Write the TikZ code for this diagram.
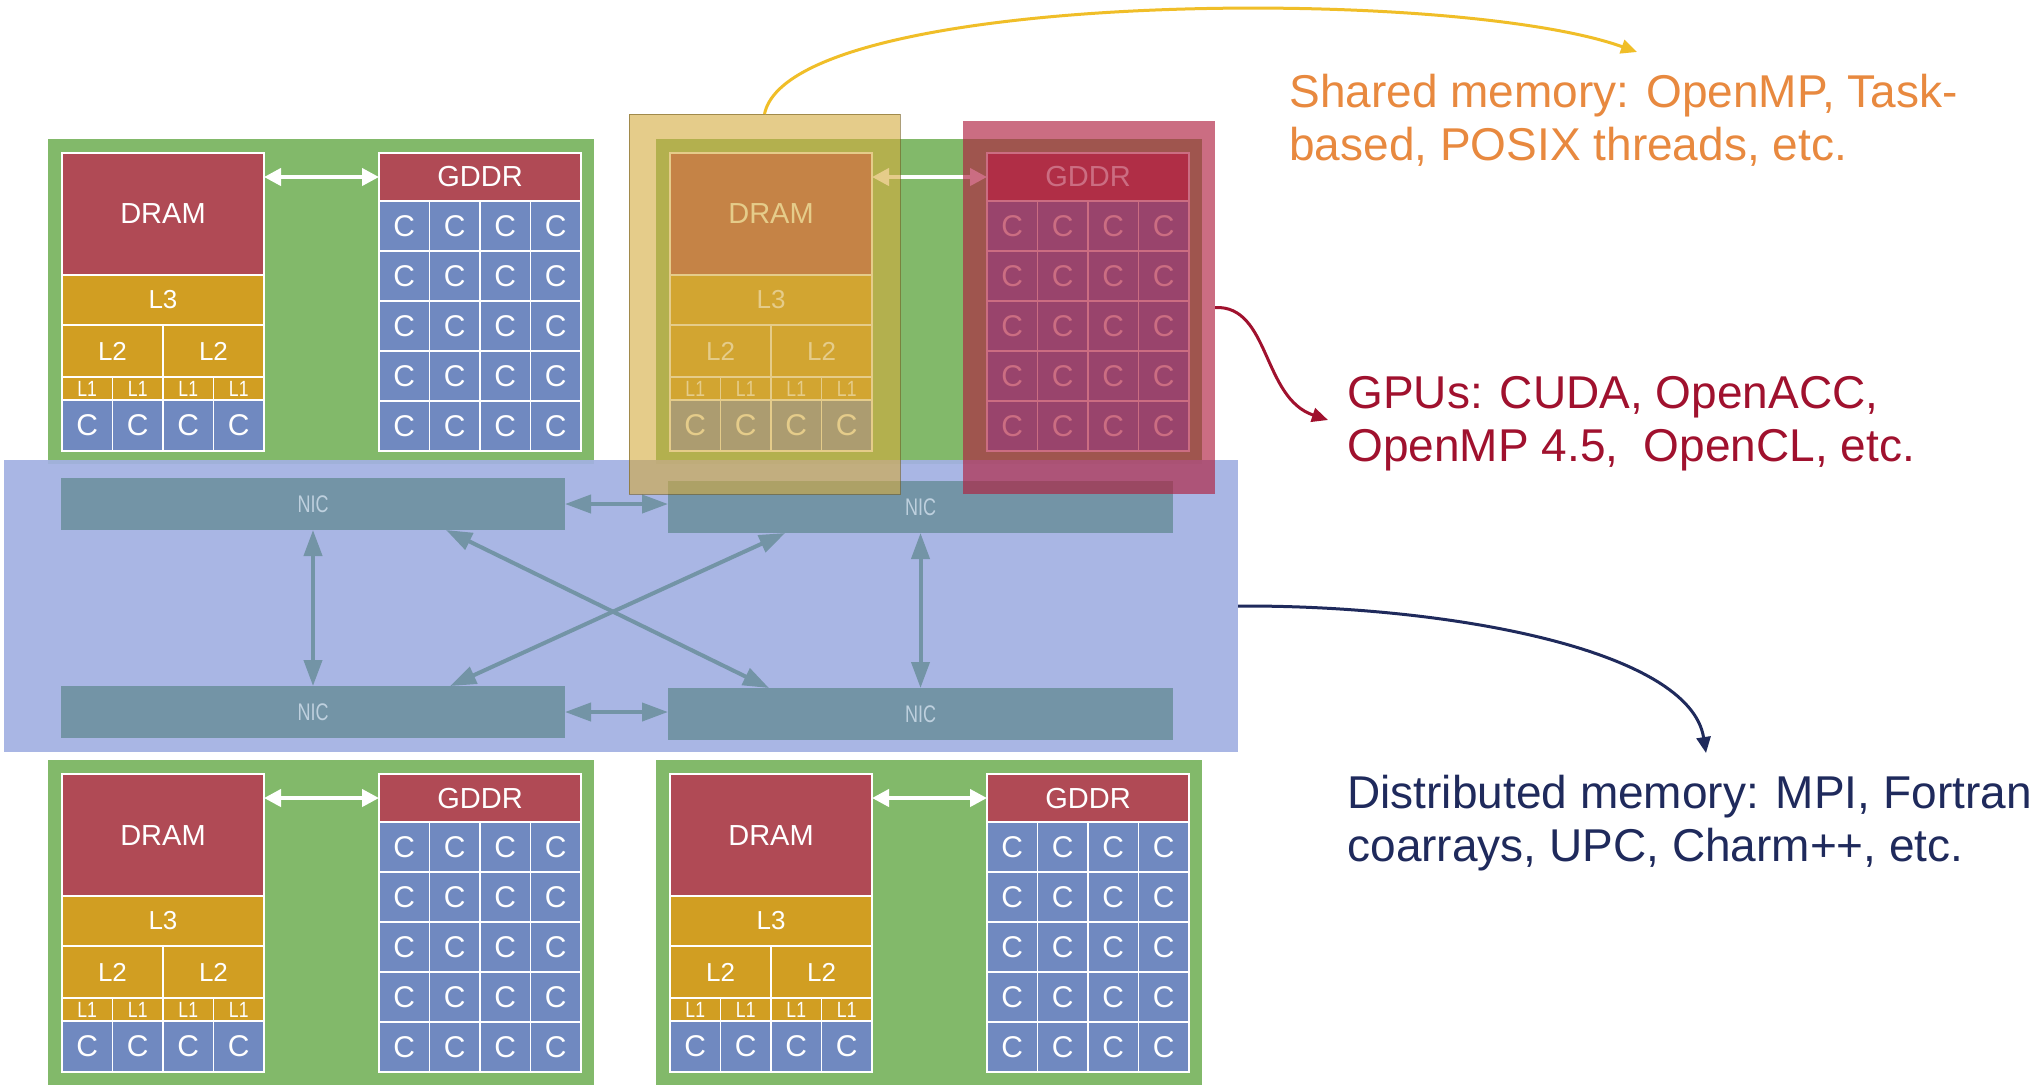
\documentclass[tikz,border=0pt]{standalone}
\usepackage{fontspec}
\setmainfont{Liberation Sans}
\usetikzlibrary{arrows.meta,calc}
\definecolor{grn}{RGB}{130,185,106}
\definecolor{dramred}{RGB}{176,74,85}
\definecolor{gold}{RGB}{209,158,34}
\definecolor{cblue}{RGB}{112,137,192}
\definecolor{band}{RGB}{163,177,226}
\definecolor{nic}{RGB}{115,148,166}
\definecolor{nictext}{RGB}{190,208,222}
\definecolor{ovy}{RGB}{212,170,60}
\definecolor{ovr}{RGB}{176,32,63}
\definecolor{sharedc}{RGB}{232,137,63}
\definecolor{gpuc}{RGB}{160,17,46}
\definecolor{distc}{RGB}{31,42,92}
\definecolor{yarrowc}{RGB}{240,190,40}
\tikzset{
  gbox/.style={fill=grn, inner sep=0pt, outer sep=0pt},
  blk/.style={draw=white, line width=0.9pt, inner sep=0pt, outer sep=0pt, text=white},
  dram/.style={blk, fill=dramred, font=\fontsize{14.5}{14.5}\selectfont},
  cache/.style={blk, fill=gold, font=\fontsize{13}{13}\selectfont},
  lone/.style={blk, fill=gold, font=\fontsize{11}{11}\selectfont},
  core/.style={blk, fill=cblue, font=\fontsize{15}{15}\selectfont},
  bandbox/.style={fill=band, fill opacity=0.93, inner sep=0pt, outer sep=0pt},
  nicbox/.style={fill=nic, inner sep=0pt, outer sep=0pt, text=nictext, font=\fontsize{12}{12}\selectfont},
  ovyel/.style={fill=ovy, fill opacity=0.6, draw=ovy!55!black, draw opacity=0.6, line width=0.5pt, inner sep=0pt, outer sep=0pt},
  ovred/.style={fill=ovr, fill opacity=0.65, inner sep=0pt, outer sep=0pt},
  wharrow/.style={draw=white, line width=2pt, {Triangle[length=8.5pt,width=8.5pt]}-{Triangle[length=8.5pt,width=8.5pt]}},
  narrow/.style={draw=nic, line width=2pt, {Triangle[length=13pt,width=9pt]}-{Triangle[length=13pt,width=9pt]}},
  lbl/.style={align=left, inner sep=0pt, font=\fontsize{23}{26.5}\selectfont},
  carrow/.style={line width=1.5pt, -{Triangle[length=8pt,width=7pt]}},
}
\newcommand{\bx}[7]{\node[#6, minimum width={(#4-(#2))*0.5pt}, minimum height={(#5-(#3))*0.5pt}] (#1) at ({((#2)+(#4))/2},{((#3)+(#5))/2}) {#7};}
\newcommand{\hwblock}[3]{%
 \begin{scope}[shift={(#2,#3)}]
  \bx{#1-g}{0}{0}{546}{325}{gbox}{}
  \bx{#1-dram}{14}{14}{216}{136}{dram}{DRAM}
  \bx{#1-l3}{14}{136}{216}{186}{cache}{L3}
  \bx{#1-l2a}{14}{186}{115}{238}{cache}{L2}
  \bx{#1-l2b}{115}{186}{216}{238}{cache}{L2}
  \foreach \i in {0,...,3} {
    \pgfmathsetmacro\xa{14+50.5*\i}\pgfmathsetmacro\xb{\xa+50.5}
    \bx{#1-lone-\i}{\xa}{238}{\xb}{261}{lone}{\scalebox{0.8}[1]{L1}}
    \bx{#1-c-\i}{\xa}{261}{\xb}{312}{core}{C}
  }
  \bx{#1-gddr}{331}{14}{533}{62}{dram}{GDDR}
  \foreach \r in {0,...,4} {\foreach \i in {0,...,3} {
    \pgfmathsetmacro\xa{331+50.5*\i}\pgfmathsetmacro\xb{\xa+50.5}
    \pgfmathsetmacro\ya{62+50*\r}\pgfmathsetmacro\yb{\ya+50}
    \bx{#1-k-\r-\i}{\xa}{\ya}{\xb}{\yb}{core}{C}
  }}
  \draw[wharrow] (#1-dram.east |- #1-gddr.west) -- (#1-gddr.west);
 \end{scope}}
\begin{document}
\begin{tikzpicture}[x=0.5pt,y=-0.5pt]
\useasboundingbox (0,0) rectangle (2037,1084);
\fill[white] (0,0) rectangle (2037,1084);
\hwblock{A}{48}{139}
\hwblock{B}{656}{139}
\hwblock{C}{48}{760}
\hwblock{D}{656}{760}
% network band
\bx{net}{4}{460}{1238}{752}{bandbox}{}
\bx{nicA}{61}{478}{565}{530}{nicbox}{\scalebox{0.75}[1]{NIC}}
\bx{nicB}{668}{481}{1173}{533}{nicbox}{\scalebox{0.75}[1]{NIC}}
\bx{nicC}{61}{686}{565}{738}{nicbox}{\scalebox{0.75}[1]{NIC}}
\bx{nicD}{668}{688}{1173}{740}{nicbox}{\scalebox{0.75}[1]{NIC}}
\draw[narrow] (nicA.east) -- (nicA.east -| nicB.west);
\draw[narrow] (nicC.east) -- (nicC.east -| nicD.west);
\draw[narrow] (nicA.south) -- (nicC.north);
\draw[narrow] (nicB.south) -- (nicD.north);
\draw[narrow] ($(nicA.south west)!0.764!(nicA.south east)$) -- ($(nicD.north west)!0.2!(nicD.north east)$);
\draw[narrow] ($(nicB.south west)!0.232!(nicB.south east)$) -- ($(nicC.north west)!0.772!(nicC.north east)$);
% overlays
\bx{shm}{629}{114}{900}{494}{ovyel}{}
\bx{gpu}{963}{121}{1215}{494}{ovred}{}
% labels
\node[lbl, text=sharedc, anchor=west] (tshared) at (1289,120) {Shared memory: OpenMP, Task-\\based, POSIX threads, etc.};
\node[lbl, text=gpuc, anchor=west] (tgpu) at (1347,424) {GPUs: CUDA, OpenACC,\\OpenMP 4.5,\ \ OpenCL, etc.};
\node[lbl, text=distc, anchor=west] (tdist) at (1347,823) {Distributed memory: MPI, Fortran\\coarrays, UPC, Charm++, etc.};
% connectors
\coordinate (yend) at (1637,52);
\coordinate (rend) at (1328,420);
\coordinate (bend) at (1706,753);
\draw[carrow, yarrowc] (shm.north) .. controls (790,-10) and (1450,-15) .. (yend);
\draw[carrow, gpuc] (gpu.east) .. controls (1270,305) and (1262,398) .. (rend);
\draw[carrow, distc] (net.east) .. controls (1450,605) and (1690,650) .. (bend);
\end{tikzpicture}
\end{document}
